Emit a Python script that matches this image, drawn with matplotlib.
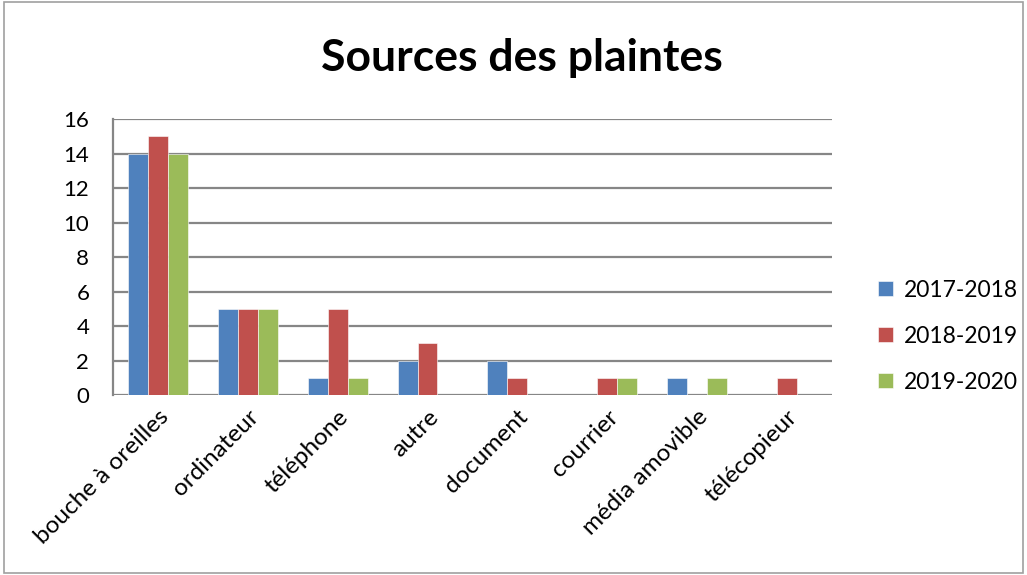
import numpy as np
import matplotlib
matplotlib.use("Agg")
import matplotlib.pyplot as plt
from matplotlib.patches import Rectangle

plt.rcParams["font.family"] = ["Lato", "DejaVu Sans"]

categories = ["bouche à oreilles", "ordinateur", "téléphone", "autre",
              "document", "courrier", "média amovible", "télécopieur"]
series = ["2017-2018", "2018-2019", "2019-2020"]
v_2017 = [14, 5, 1, 2, 2, 0, 1, 0]
v_2018 = [15, 5, 5, 3, 1, 1, 0, 1]
v_2019 = [14, 5, 1, 0, 0, 1, 1, 0]
colors = ["#4F81BD", "#C0504D", "#9BBB59"]

fig = plt.figure(figsize=(10.27, 5.75), dpi=100)
ax = fig.add_axes([0.110, 0.313, 0.700, 0.480])

x = np.arange(len(categories))
w = 0.222
for k, (vals, lab, c) in enumerate(zip([v_2017, v_2018, v_2019], series, colors)):
    ax.bar(x + (k - 1) * w, vals, width=w, color=c, label=lab, zorder=3,
           edgecolor="white", linewidth=0.4)

ax.set_xlim(-0.5, len(categories) - 0.5)
ax.set_ylim(0, 16)
ax.set_yticks(range(0, 17, 2))
ax.yaxis.grid(True, color="#868686", linewidth=1.6, zorder=0)
ax.tick_params(axis="y", length=0, labelsize=16, pad=17)
ax.tick_params(axis="x", length=0, pad=8)
for s in ["top", "right", "bottom"]:
    ax.spines[s].set_visible(False)
ax.spines["left"].set_color("#868686")
ax.spines["left"].set_linewidth(1.6)

ax.set_xticks(x)
ax.set_xticklabels(categories, rotation=45, ha="right", va="top",
                   rotation_mode="anchor", fontsize=17.5)

fig.text(0.508, 0.899, "Sources des plaintes", ha="center", va="center",
         fontsize=32, fontweight="bold")

fig.legend(loc="center left", bbox_to_anchor=(0.835, 0.415), frameon=False,
           fontsize=16.5, handlelength=0.65, handleheight=0.65,
           labelspacing=1.09, handletextpad=0.45)

fig.patches.append(Rectangle((0.004, 0.004), 0.992, 0.992, transform=fig.transFigure,
                             fill=False, edgecolor="#A0A0A0", linewidth=1.2))

fig.savefig("out.png", dpi=100)
